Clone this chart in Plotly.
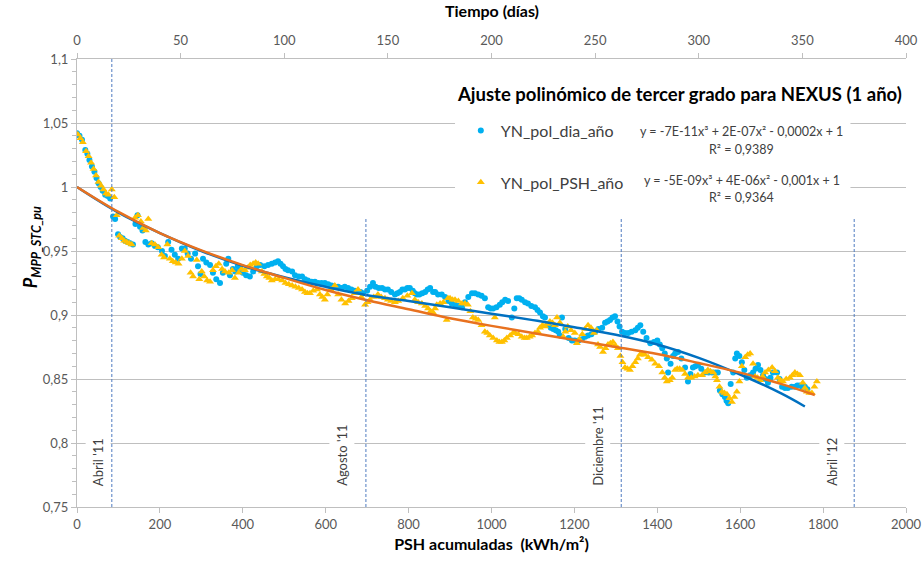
import plotly.graph_objects as go


OUTPUT_HTML = "out.html"
FONT = "Lato, 'Open Sans', sans-serif"

# YN_pol_dia_año (blue dots): accumulated PSH (kWh/m²) vs P_MPP_STC_pu
DIA_X = [
    0, 6, 12, 20, 25, 30, 36, 42, 47, 52, 57, 62, 68, 74, 80, 87, 92, 99, 104, 110,
    116, 122, 128, 135, 141, 146, 152, 158, 165, 172, 180, 188, 195,
    205, 212, 220, 228, 236, 244, 253, 260, 267, 275, 285, 292, 298, 304, 312, 321,
    328, 336, 345, 352, 360, 365, 369, 376, 382, 388, 394, 400,
    408, 417, 425, 434, 442, 452, 461, 470, 478, 485, 491, 497, 503, 509, 519, 526,
    535, 543, 550, 557, 566, 574, 582, 590, 598, 606, 614, 622, 630, 638, 646, 654,
    662, 670, 678, 684, 690, 700, 707, 714, 720,
    728, 736, 743, 750, 758, 767, 773, 779, 785, 791, 797, 803, 810, 815, 820, 826,
    833, 840, 846, 852, 859, 864, 871, 880, 888, 896, 904, 912, 920, 929, 936, 944,
    953, 960, 968, 976, 984, 992, 998,
    1004, 1012, 1020, 1026, 1033, 1040, 1049, 1055, 1061, 1067, 1073, 1081, 1088,
    1096, 1105, 1111, 1117, 1124, 1129, 1136, 1143, 1149, 1155, 1161, 1165, 1170,
    1178, 1186, 1194, 1201, 1210, 1218, 1226, 1233, 1241, 1250, 1258, 1267, 1274,
    1280, 1286, 1292, 1298, 1304, 1309,
    1315, 1322, 1330, 1338, 1347, 1353, 1359, 1366, 1374, 1383, 1392, 1400, 1406,
    1412, 1418, 1423, 1426, 1432, 1438, 1443, 1450, 1458, 1467, 1474, 1480, 1486,
    1492, 1498, 1506, 1515, 1524, 1532, 1540, 1546, 1551, 1557, 1563, 1567, 1571,
    1577, 1583, 1588, 1592, 1598, 1604,
    1610, 1616, 1624, 1631, 1637, 1643, 1649, 1655, 1661, 1667, 1673, 1679, 1689,
    1695, 1701, 1708, 1715, 1724, 1732, 1738, 1744, 1750, 1756, 1762,
]
DIA_Y = [
    1.042, 1.040, 1.037, 1.029, 1.026, 1.021, 1.016, 1.012, 1.007, 1.003, 1.000, 0.997,
    0.994, 0.993, 0.991, 0.977, 0.975, 0.963, 0.961, 0.960,
    0.958, 0.957, 0.956, 0.955, 0.971, 0.978, 0.969, 0.966, 0.957, 0.955, 0.956, 0.954, 0.953,
    0.950, 0.946, 0.957, 0.951, 0.947, 0.944, 0.952, 0.952, 0.948, 0.944, 0.948, 0.938,
    0.932, 0.944, 0.941, 0.939,
    0.933, 0.928, 0.925, 0.933, 0.940, 0.944, 0.931, 0.936, 0.934, 0.938, 0.936, 0.933,
    0.931, 0.930, 0.934, 0.938, 0.939, 0.938, 0.939, 0.940, 0.941, 0.942, 0.940, 0.938,
    0.936, 0.935, 0.934, 0.931,
    0.930, 0.930, 0.928, 0.927, 0.926, 0.926, 0.925, 0.925, 0.925, 0.924, 0.923, 0.922,
    0.922, 0.921, 0.922, 0.921,
    0.920, 0.919, 0.918, 0.918, 0.917, 0.919, 0.922, 0.925, 0.922,
    0.921, 0.921, 0.920, 0.920, 0.918, 0.916, 0.917, 0.918, 0.920, 0.920, 0.921, 0.921,
    0.919, 0.917, 0.916, 0.916,
    0.917, 0.918, 0.920, 0.921, 0.918, 0.918, 0.916, 0.916, 0.914, 0.911, 0.909, 0.908,
    0.907, 0.906, 0.910, 0.914,
    0.917, 0.917, 0.916, 0.915, 0.913, 0.906, 0.905,
    0.905, 0.906, 0.908, 0.910, 0.912, 0.911, 0.898, 0.905, 0.913, 0.913, 0.912, 0.910,
    0.909,
    0.907, 0.906, 0.904, 0.902, 0.899, 0.898, 0.893, 0.890, 0.889, 0.888, 0.887, 0.884,
    0.898,
    0.889, 0.882, 0.880, 0.880, 0.880, 0.881, 0.883, 0.884, 0.885, 0.887, 0.889, 0.890,
    0.894,
    0.895, 0.896, 0.898, 0.899, 0.895, 0.891,
    0.887, 0.886, 0.886, 0.887, 0.888, 0.890, 0.892, 0.887, 0.882, 0.878, 0.879, 0.880,
    0.877,
    0.874, 0.870, 0.866, 0.855, 0.862, 0.868, 0.870, 0.871, 0.866, 0.859, 0.848, 0.854,
    0.859,
    0.860, 0.861, 0.858, 0.855, 0.855, 0.855, 0.855, 0.855, 0.841, 0.838, 0.836, 0.833,
    0.831,
    0.846, 0.855, 0.866, 0.870, 0.868, 0.863,
    0.857, 0.851, 0.853, 0.855, 0.858, 0.861, 0.857, 0.853, 0.850, 0.847, 0.851, 0.855,
    0.855,
    0.850, 0.844, 0.843, 0.843, 0.844, 0.844, 0.845, 0.845, 0.844, 0.844, 0.842,
]

# YN_pol_PSH_año (yellow triangles)
PSH_X = [
    2, 8, 14, 22, 28, 34, 40, 46, 52, 58, 64, 70, 76, 84, 90, 96, 102, 108, 114, 120,
    126, 132, 140, 147, 154, 160, 166, 172, 180, 188, 196,
    204, 210, 218, 224, 231, 238, 245, 253, 260, 268, 274, 280, 289, 295, 301, 307,
    314, 321, 328, 335, 342, 350, 357, 366, 374, 381, 390, 397,
    405, 412, 418, 425, 431, 437, 446, 452, 458, 464, 470, 478, 486, 495, 503, 511,
    519, 527, 535, 543, 550, 556, 562, 570, 579, 586, 592, 598, 604, 612, 622, 630,
    638, 647, 655, 663, 670, 678, 686, 695, 701,
    707, 716, 726, 734, 743, 750, 758, 767, 775, 786, 797, 808, 815, 823, 832, 840,
    847, 853, 859, 864, 868, 876, 884, 892, 895, 900, 906, 912, 920, 929, 936, 943,
    949, 955, 962, 968, 976, 984, 990, 996,
    1004, 1008, 1013, 1019, 1025, 1031, 1037, 1045, 1052, 1057, 1065, 1073, 1080,
    1085, 1092, 1098, 1105, 1112, 1117, 1123, 1129, 1135, 1141, 1147, 1153, 1158,
    1165, 1173, 1178, 1184, 1192, 1201, 1206, 1212, 1219, 1226, 1233, 1240, 1247,
    1254, 1257, 1262, 1269, 1275, 1281, 1287, 1293, 1299, 1305,
    1311, 1316, 1322, 1328, 1334, 1340, 1347, 1353, 1358, 1363, 1370, 1378, 1387,
    1395, 1404, 1412, 1418, 1423, 1430, 1436, 1443, 1448, 1454, 1460, 1467, 1474,
    1482, 1490, 1498, 1508, 1515, 1522, 1528, 1535, 1540, 1544, 1550, 1556, 1562,
    1568, 1574, 1580, 1586, 1592, 1598, 1604, 1612, 1618, 1624,
    1631, 1636, 1642, 1648, 1654, 1660, 1668, 1677, 1684, 1691, 1697, 1703, 1711,
    1720, 1726, 1732, 1738, 1744, 1751, 1756, 1761, 1767, 1773, 1779, 1785,
]
PSH_Y = [
    1.041, 1.038, 1.035, 1.028, 1.024, 1.019, 1.014, 1.009, 1.004, 1.001, 0.998, 0.995,
    0.994, 0.998, 0.992, 0.978, 0.962, 0.960, 0.958, 0.957,
    0.956, 0.955, 0.976, 0.978, 0.973, 0.968, 0.966, 0.975, 0.956, 0.955, 0.953,
    0.947, 0.945, 0.955, 0.944, 0.942, 0.941, 0.940, 0.944, 0.950, 0.946, 0.933, 0.930,
    0.943, 0.928, 0.934, 0.930,
    0.927, 0.926, 0.935, 0.938, 0.940, 0.936, 0.934, 0.933, 0.935, 0.929, 0.933, 0.936,
    0.935, 0.937, 0.939, 0.940, 0.941, 0.940, 0.934, 0.932, 0.930, 0.929, 0.927, 0.928,
    0.928, 0.927, 0.925, 0.924,
    0.923, 0.922, 0.921, 0.920, 0.918, 0.917, 0.917, 0.919, 0.920, 0.916, 0.914, 0.912,
    0.916, 0.920, 0.923, 0.916,
    0.912, 0.909, 0.911, 0.913, 0.917, 0.920, 0.914, 0.908, 0.910,
    0.912, 0.914, 0.916, 0.914, 0.913, 0.912, 0.911, 0.910, 0.911, 0.913, 0.915, 0.917,
    0.912, 0.910, 0.909, 0.907,
    0.905, 0.903, 0.902, 0.905, 0.908, 0.909, 0.910, 0.896, 0.913, 0.913, 0.912, 0.912,
    0.911, 0.909, 0.909, 0.908,
    0.903, 0.898, 0.897, 0.896, 0.892, 0.887, 0.886, 0.884,
    0.882, 0.898, 0.880, 0.879, 0.879, 0.880, 0.882, 0.884, 0.886, 0.886, 0.885, 0.883,
    0.882,
    0.882, 0.883, 0.884, 0.886, 0.887, 0.890, 0.892, 0.891, 0.893, 0.895, 0.894, 0.892,
    0.898,
    0.894, 0.883, 0.887, 0.891, 0.888, 0.886, 0.878, 0.881, 0.885, 0.889, 0.892, 0.890,
    0.886,
    0.888, 0.877, 0.875, 0.871, 0.874, 0.877, 0.878, 0.879, 0.876, 0.874,
    0.868, 0.863, 0.859, 0.858, 0.857, 0.860, 0.863, 0.866, 0.869, 0.870, 0.869, 0.867,
    0.865,
    0.862, 0.860, 0.855, 0.851, 0.848, 0.849, 0.851, 0.857, 0.858, 0.858, 0.857, 0.854,
    0.851,
    0.851, 0.852, 0.853, 0.853, 0.855, 0.857, 0.856, 0.855, 0.852, 0.849, 0.844, 0.840,
    0.839,
    0.838, 0.835, 0.832, 0.836, 0.840, 0.848, 0.860, 0.867, 0.869, 0.870,
    0.862, 0.852, 0.851, 0.849, 0.852, 0.855, 0.857, 0.859, 0.856, 0.851, 0.849, 0.848,
    0.850,
    0.851, 0.853, 0.855, 0.854, 0.853, 0.847, 0.843, 0.840, 0.839, 0.839, 0.844, 0.848,
]

# third-degree trend lines
TREND_DIA_X = [0, 100, 200, 300, 400, 500, 600, 700, 800, 900, 1000, 1100, 1200,
               1300, 1400, 1500, 1600, 1700, 1756]
TREND_DIA_Y = [1.0, 0.980, 0.964, 0.950, 0.9385, 0.9295, 0.922, 0.9155, 0.911, 0.906,
               0.901, 0.896, 0.8905, 0.8845, 0.877, 0.8665, 0.8535, 0.8385, 0.8285]
TREND_PSH_X = [0, 100, 200, 300, 400, 500, 600, 700, 800, 900, 1000, 1100, 1200,
               1300, 1400, 1500, 1600, 1700, 1780]
TREND_PSH_Y = [1.0, 0.9805, 0.964, 0.9505, 0.939, 0.929, 0.9195, 0.9115, 0.9045,
               0.8975, 0.8915, 0.886, 0.8805, 0.875, 0.8695, 0.8625, 0.855, 0.846, 0.8375]

SERIES_NAMES = ["YN_pol_dia_año", "YN_pol_PSH_año"]
EQUATIONS = ["y = -7E-11x³ + 2E-07x² - 0,0002x + 1",
             "y = -5E-09x³ + 4E-06x² - 0,001x + 1"]
R2_TEXT = ["R² = 0,9389", "R² = 0,9364"]

MONTH_X = [84, 697, 1313, 1875]
MONTH_LABELS = ["Abril '11", "Agosto '11", "Diciembre '11", "Abril '12"]

CHART_TITLE = "Ajuste polinómico de tercer grado para NEXUS (1 año)"
X_TITLE = "PSH acumuladas  (kWh/m²)"
X2_TITLE = "Tiempo (días)"
Y_TITLE = "<b><i>P<sub>MPP_STC_pu</sub></i></b>"


def build_figure():
    fig = go.Figure()

    fig.add_trace(go.Scatter(
        x=DIA_X, y=DIA_Y, mode="markers", name=SERIES_NAMES[0],
        legendgroup="dia",
        marker=dict(color="#00B0F0", size=6, symbol="circle"),
    ))
    fig.add_trace(go.Scatter(
        x=PSH_X, y=PSH_Y, mode="markers", name=SERIES_NAMES[1],
        legendgroup="psh",
        marker=dict(color="#FFC000", size=7, symbol="triangle-up"),
    ))
    fig.add_trace(go.Scatter(
        x=TREND_DIA_X, y=TREND_DIA_Y, mode="lines", showlegend=False,
        line=dict(color="#0070C0", width=2.5, shape="spline"),
    ))
    fig.add_trace(go.Scatter(
        x=TREND_PSH_X, y=TREND_PSH_Y, mode="lines", showlegend=False,
        line=dict(color="#E8711F", width=2.5, shape="spline"),
    ))
    # empty trace so the top (days) axis gets drawn
    fig.add_trace(go.Scatter(x=[], y=[], xaxis="x2", yaxis="y",
                             showlegend=False, hoverinfo="skip"))

    # dashed month markers; the three right ones stop under the legend box
    tops = [1.1, 0.975, 0.975, 0.975]
    for xv, top in zip(MONTH_X, tops):
        fig.add_shape(type="line", x0=xv, x1=xv, y0=0.75, y1=top,
                      xref="x", yref="y",
                      line=dict(color="#4F7BC0", width=1, dash="3px,2px"))

    # white box behind title/legend/equations hides the gridlines there
    fig.add_shape(type="rect", xref="paper", yref="paper",
                  x0=0.456, x1=0.933, y0=0.643, y1=0.962,
                  fillcolor="white", line=dict(width=0), layer="above")

    label_offsets = [-33, -58, -58, -54]
    for xv, text, off in zip(MONTH_X, MONTH_LABELS, label_offsets):
        fig.add_annotation(x=xv + off, y=0.7625, xref="x", yref="y",
                           text=text, textangle=-90, showarrow=False,
                           xanchor="center", yanchor="bottom",
                           bgcolor="white", borderpad=4,
                           font=dict(family=FONT, size=13, color="#404040"))

    fig.add_annotation(x=0.998, y=0.921, xref="paper", yref="paper",
                       text="<b>" + CHART_TITLE + "</b>", showarrow=False,
                       xanchor="right", yanchor="middle",
                       font=dict(family=FONT, size=18.5, color="black"))

    eq_rows = [(0.839, 0.799), (0.728, 0.690)]
    for (ye, yr), eq, r2 in zip(eq_rows, EQUATIONS, R2_TEXT):
        fig.add_annotation(x=0.802, y=ye, xref="paper", yref="paper", text=eq,
                           showarrow=False, xanchor="center", yanchor="middle",
                           font=dict(family=FONT, size=12.5, color="#404040"))
        fig.add_annotation(x=0.802, y=yr, xref="paper", yref="paper", text=r2,
                           showarrow=False, xanchor="center", yanchor="middle",
                           font=dict(family=FONT, size=12.5, color="#404040"))

    fig.add_annotation(x=-0.073, y=0.58, xref="paper", yref="paper",
                       text=Y_TITLE, textangle=-90, showarrow=False,
                       font=dict(family=FONT, size=18, color="black"))

    # top axis title, placed by hand above the day ticks
    fig.add_annotation(x=0.5, y=1.109, xref="paper", yref="paper",
                       text="<b>" + X2_TITLE + "</b>", showarrow=False,
                       xanchor="center", yanchor="middle",
                       font=dict(family=FONT, size=16, color="black"))

    axis_grey = "#BFBFBF"
    tick_font = dict(family=FONT, size=13, color="#595959")

    fig.update_layout(
        width=924,
        height=562,
        autosize=False,
        margin=dict(l=77, r=18, t=59, b=55, autoexpand=False),
        paper_bgcolor="white",
        plot_bgcolor="white",
        separators=", ",
        font=dict(family=FONT, color="#404040"),
        showlegend=True,
        legend=dict(
            x=0.463, y=0.878, xanchor="left", yanchor="top",
            bgcolor="rgba(0,0,0,0)", tracegroupgap=28,
            font=dict(family=FONT, size=16, color="#404040"),
        ),
        xaxis=dict(
            range=[0, 2000], dtick=200, tick0=0,
            showgrid=False, zeroline=False, automargin=False,
            showline=True, linecolor=axis_grey, linewidth=1,
            ticks="outside", ticklen=5, tickcolor=axis_grey,
            tickfont=tick_font,
            title=dict(text="<b>" + X_TITLE + "</b>", standoff=8,
                       font=dict(family=FONT, size=16, color="black")),
        ),
        xaxis2=dict(
            range=[0, 400], dtick=50, tick0=0,
            overlaying="x", side="top", anchor="y",
            showgrid=False, zeroline=False, automargin=False,
            showline=True, linecolor=axis_grey, linewidth=1,
            ticks="outside", ticklen=5, tickcolor=axis_grey,
            tickfont=tick_font, ticklabelstandoff=3,
        ),
        yaxis=dict(
            range=[0.75, 1.1], dtick=0.05, tick0=0.75,
            showgrid=True, gridcolor=axis_grey, gridwidth=1,
            zeroline=False, automargin=False,
            showline=True, linecolor=axis_grey, linewidth=1,
            ticks="outside", ticklen=5, tickcolor=axis_grey,
            tickfont=tick_font,
            minor=dict(dtick=0.01, ticks="outside", ticklen=4,
                       tickcolor=axis_grey, showgrid=False),
        ),
    )
    return fig


def main():
    fig = build_figure()
    fig.write_html(
        OUTPUT_HTML,
        config={"displayModeBar": False},
        post_script="document.body.style.margin='0';"
                    "document.body.style.overflow='hidden';",
    )
    print(f"Saved chart to {OUTPUT_HTML}")


if __name__ == "__main__":
    main()
